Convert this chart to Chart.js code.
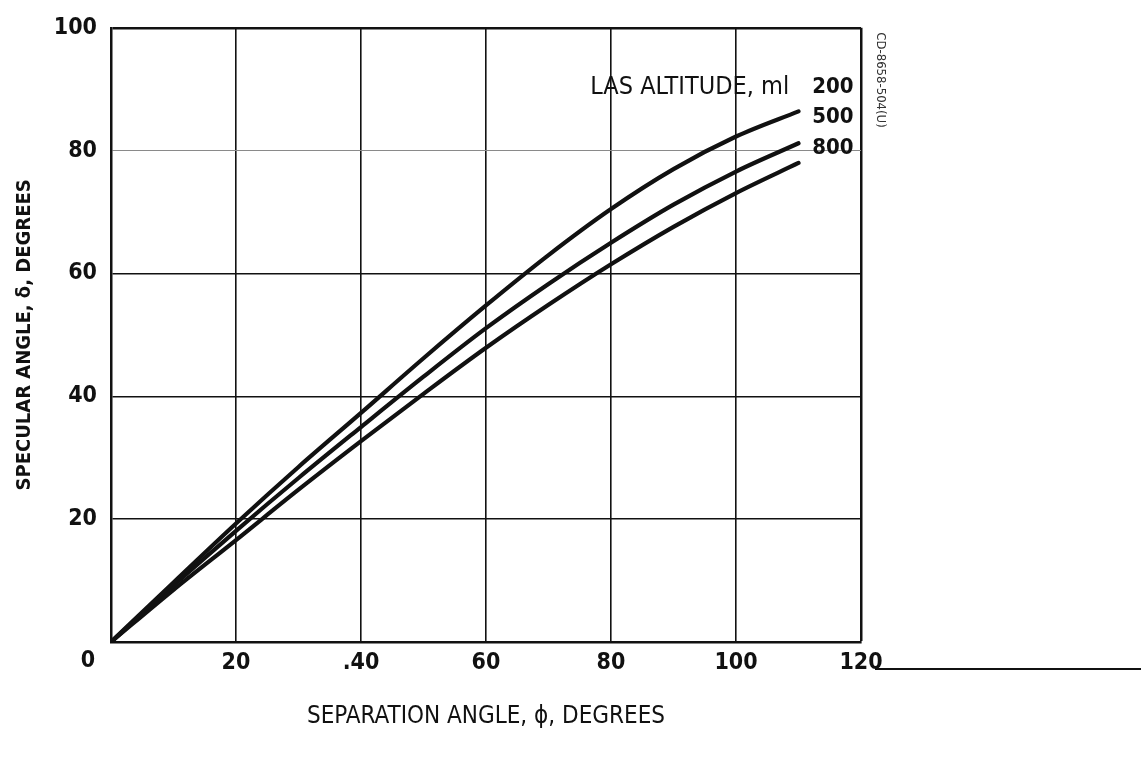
<!DOCTYPE html>
<html>
<head>
<meta charset="utf-8">
<script src="https://cdn.jsdelivr.net/npm/chart.js@4/dist/chart.umd.min.js"></script>
<style>
  html, body { margin: 0; padding: 0; background: #fff; }
  #wrap { width: 1144px; height: 757px; }
</style>
</head>
<body>
<div id="wrap"><canvas id="c" width="1144" height="757"></canvas></div>
<script>
// Separation angle (deg) sampled along each curve
const separationAngle = [0, 10, 20, 30, 40, 50, 60, 70, 80, 90, 100, 110];
// Specular angle (deg) for each LAS altitude (mi)
const specular200 = [0, 9.7, 19.3, 28.5, 37.3, 46.2, 54.8, 63.0, 70.5, 77.0, 82.3, 86.4];
const specular500 = [0, 9.2, 18.1, 26.7, 35.0, 43.2, 51.1, 58.3, 65.0, 71.2, 76.6, 81.2];
const specular800 = [0, 8.5, 16.6, 24.8, 32.7, 40.4, 47.9, 54.9, 61.5, 67.6, 73.1, 78.0];
const altitudeNames = ['200', '500', '800'];
// Tick values along each axis
const xTicks = [0, 20, 40, 60, 80, 100, 120];
const yTicks = [0, 20, 40, 60, 80, 100];

const FONT = '"Liberation Sans Narrow", "DejaVu Sans Condensed", "Roboto", sans-serif';
const INK = '#111';

const toPoints = ys => separationAngle.map((x, i) => ({ x, y: ys[i] }));
const curveStyle = {
  borderColor: INK, borderWidth: 4.2, pointRadius: 0, fill: false,
  cubicInterpolationMode: 'monotone', borderCapStyle: 'round'
};

// Labels drawn inside the plot: altitude key, origin label, side code and trailing rule
const annotations = {
  id: 'annotations',
  afterDraw(chart) {
    const { ctx, scales: { x, y } } = chart;
    ctx.save();
    ctx.fillStyle = INK;
    ctx.textBaseline = 'middle';

    // altitude key
    ctx.font = '25px ' + FONT;
    ctx.textAlign = 'right';
    ctx.fillText('LAS ALTITUDE, ml', x.getPixelForValue(108.5), y.getPixelForValue(90.3));
    ctx.font = 'bold 22px ' + FONT;
    ctx.textAlign = 'left';
    const keyY = [90.3, 85.4, 80.4];
    altitudeNames.forEach((name, i) => {
      ctx.fillText(name, x.getPixelForValue(112.2), y.getPixelForValue(keyY[i]));
    });

    // shared origin label
    ctx.font = 'bold 23px ' + FONT;
    ctx.textAlign = 'center';
    ctx.fillText('0', x.getPixelForValue(0) - 23, y.getPixelForValue(0) + 19);

    // rule running out from the last tick label
    ctx.strokeStyle = INK;
    ctx.lineWidth = 2;
    ctx.beginPath();
    ctx.moveTo(x.getPixelForValue(120) + 14, y.getPixelForValue(0) + 27);
    ctx.lineTo(1141, y.getPixelForValue(0) + 27);
    ctx.stroke();

    // sideways figure code
    ctx.translate(x.getPixelForValue(120) + 19, y.getPixelForValue(91.5));
    ctx.rotate(Math.PI / 2);
    ctx.font = '13px ' + FONT;
    ctx.fillStyle = '#333';
    ctx.textAlign = 'center';
    ctx.fillText('CD-8658-504(U)', 0, 0);
    ctx.restore();
  }
};

new Chart(document.getElementById('c'), {
  type: 'line',
  data: {
    datasets: [
      { label: altitudeNames[0], data: toPoints(specular200), ...curveStyle },
      { label: altitudeNames[1], data: toPoints(specular500), ...curveStyle },
      { label: altitudeNames[2], data: toPoints(specular800), ...curveStyle }
    ]
  },
  options: {
    responsive: false,
    animation: false,
    layout: { padding: { top: 24, right: 283, bottom: 0, left: 0 } },
    plugins: { legend: { display: false }, tooltip: { enabled: false } },
    scales: {
      x: {
        type: 'linear', min: 0, max: 120,
        afterBuildTicks: s => { s.ticks = xTicks.map(v => ({ value: v })); },
        afterFit: s => { s.height = 115; },
        ticks: {
          color: INK, padding: 7,
          font: { family: FONT, size: 23, weight: 'bold' },
          callback: v => (v === 0 ? '' : (v === 40 ? '.40' : String(v)))
        },
        grid: {
          drawTicks: false,
          color: INK,
          lineWidth: c => (c.tick && c.tick.value === 120 ? 2.5 : 1.6)
        },
        border: { display: true, color: INK, width: 2.5 },
        title: {
          display: true, text: 'SEPARATION ANGLE, ϕ, DEGREES', color: INK,
          font: { family: FONT, size: 24 }, padding: { top: 0, bottom: 26 }
        }
      },
      y: {
        type: 'linear', min: 0, max: 100,
        afterBuildTicks: s => { s.ticks = yTicks.map(v => ({ value: v })); },
        afterFit: s => { s.width = 111; },
        ticks: {
          color: INK, padding: 14,
          font: { family: FONT, size: 23, weight: 'bold' },
          callback: v => (v === 0 ? '' : String(v))
        },
        grid: {
          drawTicks: false,
          color: c => (c.tick && c.tick.value === 80 ? '#8a8a8a' : INK),
          lineWidth: c => (c.tick && c.tick.value === 100 ? 2.5 : (c.tick && c.tick.value === 80 ? 1 : 1.6))
        },
        border: { display: true, color: INK, width: 2.5 },
        title: {
          display: true, text: 'SPECULAR ANGLE, δ, DEGREES', color: INK,
          font: { family: FONT, size: 20, weight: 'bold' }, padding: { top: 13, bottom: 0 }
        }
      }
    }
  },
  plugins: [annotations]
});
</script>
</body>
</html>
